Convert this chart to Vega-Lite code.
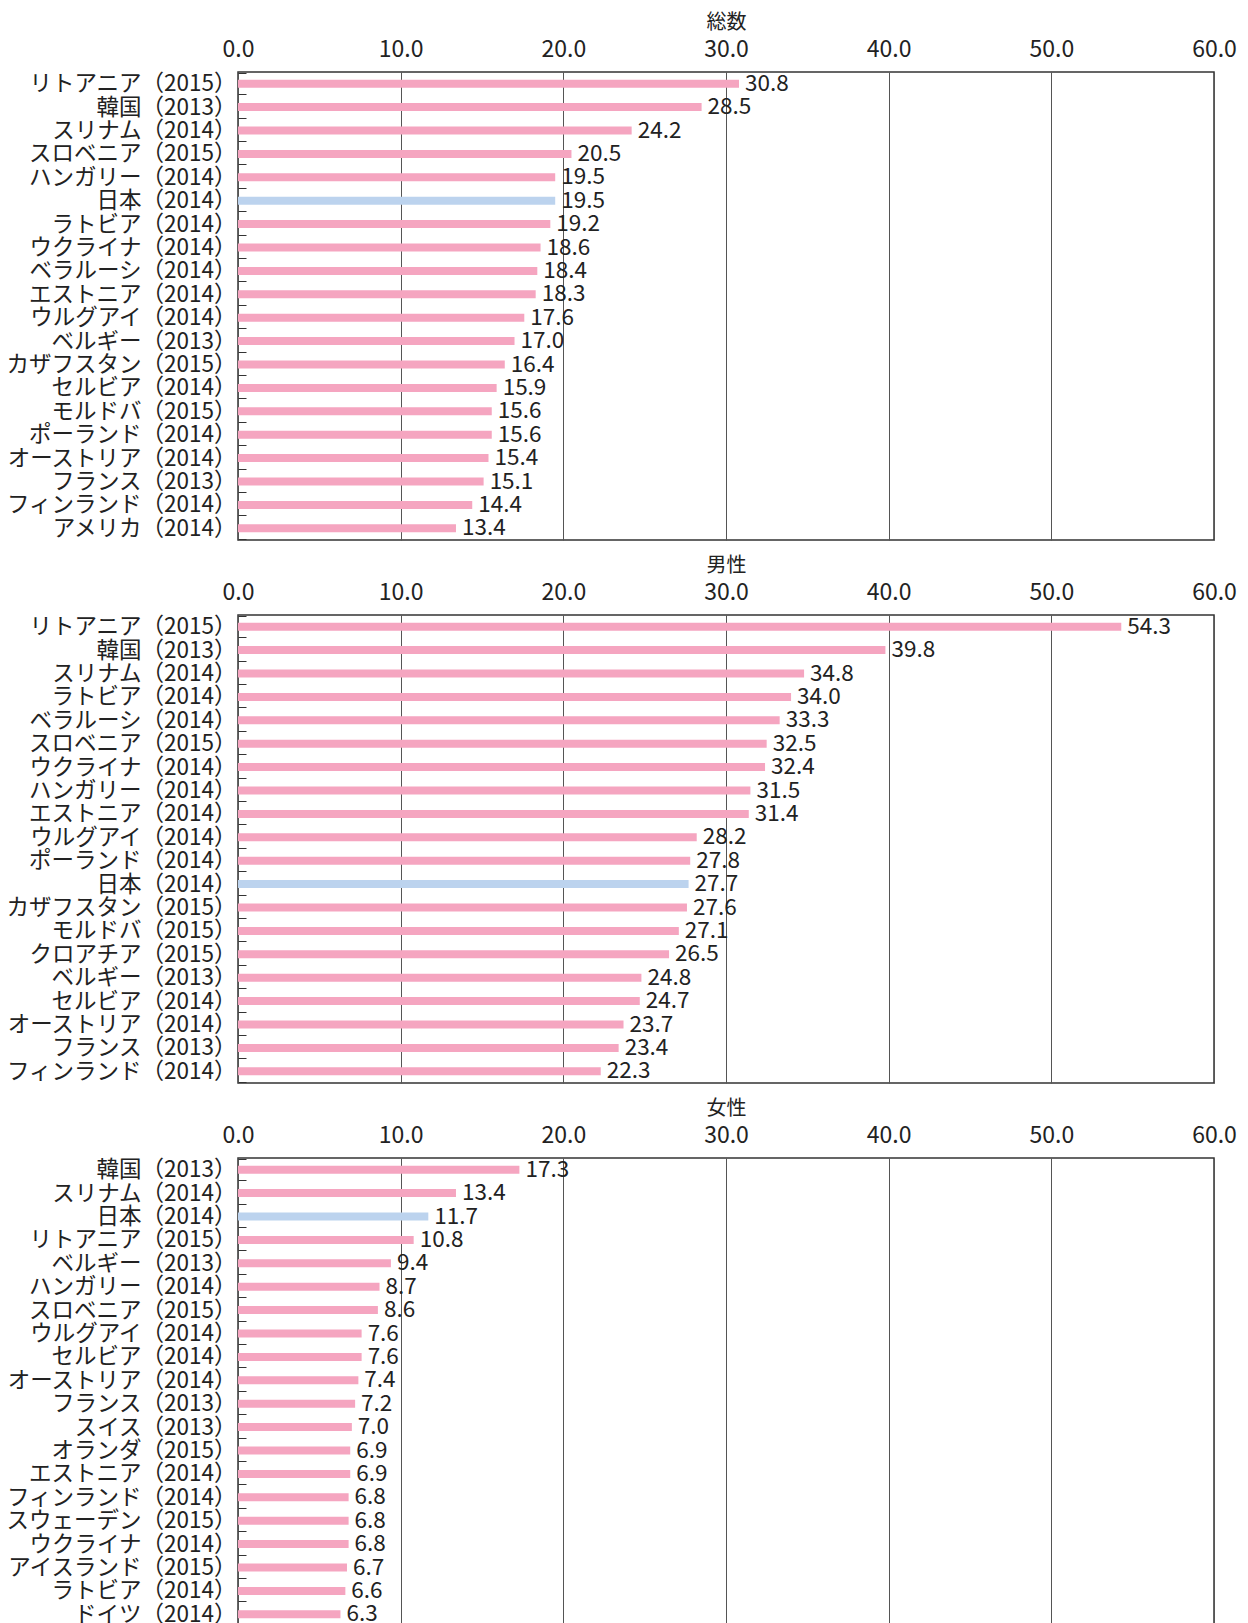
{
  "$schema": "https://vega.github.io/schema/vega-lite/v6.json",
  "padding": {"left": 5, "top": 11, "right": 5, "bottom": 0},
  "background": "white",
  "config": {
    "font": "Noto Sans CJK JP",
    "view": {"stroke": "#333333", "strokeWidth": 1.5},
    "axisX": {
      "orient": "top",
      "grid": true,
      "gridColor": "#555555",
      "gridWidth": 1,
      "ticks": false,
      "domain": false,
      "labelFlush": false,
      "labelFontSize": 23,
      "labelColor": "#222222",
      "labelPadding": 11,
      "titleFontSize": 20,
      "titleFontWeight": "normal",
      "titleColor": "#222222",
      "titlePadding": 6
    },
    "axisY": {
      "title": null,
      "grid": false,
      "domain": false,
      "ticks": true,
      "tickBand": "extent",
      "tickSize": -8,
      "tickColor": "#333333",
      "labelFontSize": 22.5,
      "labelColor": "#222222",
      "labelPadding": 10,
      "labelLimit": 400,
      "minExtent": 232,
      "maxExtent": 232
    }
  },
  "spacing": 13,
  "datasets": {
    "total": [
      {"country": "リトアニア（2015）", "value": 30.8},
      {"country": "韓国（2013）", "value": 28.5},
      {"country": "スリナム（2014）", "value": 24.2},
      {"country": "スロベニア（2015）", "value": 20.5},
      {"country": "ハンガリー（2014）", "value": 19.5},
      {"country": "日本（2014）", "value": 19.5},
      {"country": "ラトビア（2014）", "value": 19.2},
      {"country": "ウクライナ（2014）", "value": 18.6},
      {"country": "ベラルーシ（2014）", "value": 18.4},
      {"country": "エストニア（2014）", "value": 18.3},
      {"country": "ウルグアイ（2014）", "value": 17.6},
      {"country": "ベルギー（2013）", "value": 17.0},
      {"country": "カザフスタン（2015）", "value": 16.4},
      {"country": "セルビア（2014）", "value": 15.9},
      {"country": "モルドバ（2015）", "value": 15.6},
      {"country": "ポーランド（2014）", "value": 15.6},
      {"country": "オーストリア（2014）", "value": 15.4},
      {"country": "フランス（2013）", "value": 15.1},
      {"country": "フィンランド（2014）", "value": 14.4},
      {"country": "アメリカ（2014）", "value": 13.4}
    ],
    "male": [
      {"country": "リトアニア（2015）", "value": 54.3},
      {"country": "韓国（2013）", "value": 39.8},
      {"country": "スリナム（2014）", "value": 34.8},
      {"country": "ラトビア（2014）", "value": 34.0},
      {"country": "ベラルーシ（2014）", "value": 33.3},
      {"country": "スロベニア（2015）", "value": 32.5},
      {"country": "ウクライナ（2014）", "value": 32.4},
      {"country": "ハンガリー（2014）", "value": 31.5},
      {"country": "エストニア（2014）", "value": 31.4},
      {"country": "ウルグアイ（2014）", "value": 28.2},
      {"country": "ポーランド（2014）", "value": 27.8},
      {"country": "日本（2014）", "value": 27.7},
      {"country": "カザフスタン（2015）", "value": 27.6},
      {"country": "モルドバ（2015）", "value": 27.1},
      {"country": "クロアチア（2015）", "value": 26.5},
      {"country": "ベルギー（2013）", "value": 24.8},
      {"country": "セルビア（2014）", "value": 24.7},
      {"country": "オーストリア（2014）", "value": 23.7},
      {"country": "フランス（2013）", "value": 23.4},
      {"country": "フィンランド（2014）", "value": 22.3}
    ],
    "female": [
      {"country": "韓国（2013）", "value": 17.3},
      {"country": "スリナム（2014）", "value": 13.4},
      {"country": "日本（2014）", "value": 11.7},
      {"country": "リトアニア（2015）", "value": 10.8},
      {"country": "ベルギー（2013）", "value": 9.4},
      {"country": "ハンガリー（2014）", "value": 8.7},
      {"country": "スロベニア（2015）", "value": 8.6},
      {"country": "ウルグアイ（2014）", "value": 7.6},
      {"country": "セルビア（2014）", "value": 7.6},
      {"country": "オーストリア（2014）", "value": 7.4},
      {"country": "フランス（2013）", "value": 7.2},
      {"country": "スイス（2013）", "value": 7.0},
      {"country": "オランダ（2015）", "value": 6.9},
      {"country": "エストニア（2014）", "value": 6.9},
      {"country": "フィンランド（2014）", "value": 6.8},
      {"country": "スウェーデン（2015）", "value": 6.8},
      {"country": "ウクライナ（2014）", "value": 6.8},
      {"country": "アイスランド（2015）", "value": 6.7},
      {"country": "ラトビア（2014）", "value": 6.6},
      {"country": "ドイツ（2014）", "value": 6.3}
    ]
  },
  "vconcat": [
    {
      "width": 976, "height": 468,
      "data": {"name": "total"},
      "encoding": {
        "y": {"field": "country", "type": "nominal", "sort": null},
        "x": {"field": "value", "type": "quantitative", "scale": {"domain": [0, 60]},
              "axis": {"title": "総数", "values": [0, 10, 20, 30, 40, 50, 60], "format": ".1f"}}
      },
      "layer": [
        {"mark": {"type": "bar", "size": 8},
         "encoding": {"color": {"condition": {"test": "indexof(datum.country, '日本') === 0", "value": "#bcd3ee"}, "value": "#f5a5c0"}}},
        {"mark": {"type": "text", "align": "left", "dx": 6, "fontSize": 22.5, "color": "#222222"},
         "encoding": {"text": {"field": "value", "type": "quantitative", "format": ".1f"}}}
      ]
    },
    {
      "width": 976, "height": 468,
      "data": {"name": "male"},
      "encoding": {
        "y": {"field": "country", "type": "nominal", "sort": null},
        "x": {"field": "value", "type": "quantitative", "scale": {"domain": [0, 60]},
              "axis": {"title": "男性", "values": [0, 10, 20, 30, 40, 50, 60], "format": ".1f"}}
      },
      "layer": [
        {"mark": {"type": "bar", "size": 8},
         "encoding": {"color": {"condition": {"test": "indexof(datum.country, '日本') === 0", "value": "#bcd3ee"}, "value": "#f5a5c0"}}},
        {"mark": {"type": "text", "align": "left", "dx": 6, "fontSize": 22.5, "color": "#222222"},
         "encoding": {"text": {"field": "value", "type": "quantitative", "format": ".1f"}}}
      ]
    },
    {
      "width": 976, "height": 468,
      "data": {"name": "female"},
      "encoding": {
        "y": {"field": "country", "type": "nominal", "sort": null},
        "x": {"field": "value", "type": "quantitative", "scale": {"domain": [0, 60]},
              "axis": {"title": "女性", "values": [0, 10, 20, 30, 40, 50, 60], "format": ".1f"}}
      },
      "layer": [
        {"mark": {"type": "bar", "size": 8},
         "encoding": {"color": {"condition": {"test": "indexof(datum.country, '日本') === 0", "value": "#bcd3ee"}, "value": "#f5a5c0"}}},
        {"mark": {"type": "text", "align": "left", "dx": 6, "fontSize": 22.5, "color": "#222222"},
         "encoding": {"text": {"field": "value", "type": "quantitative", "format": ".1f"}}}
      ]
    }
  ]
}
